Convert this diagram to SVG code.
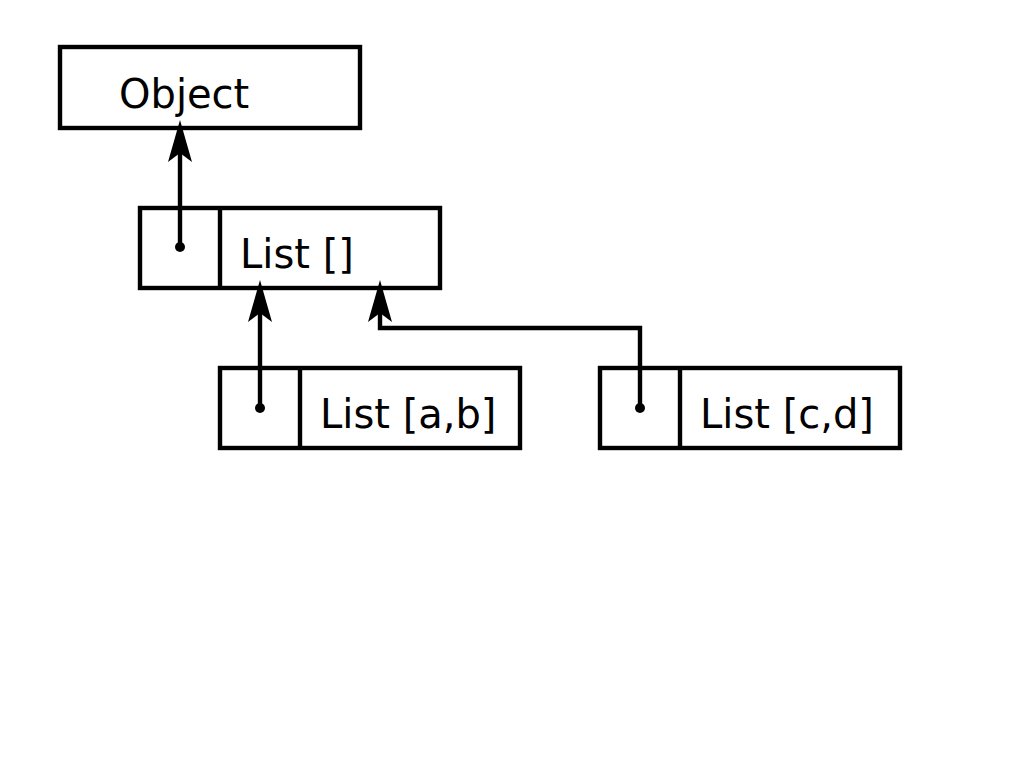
<svg xmlns="http://www.w3.org/2000/svg" width="1024" height="768" viewBox="0 0 1024 768">
<style>
.box{fill:none;stroke:#000;stroke-width:4.4}
.lbl{font-family:"DejaVu Sans",sans-serif;font-size:40px;fill:#000}
.con{fill:none;stroke:#000;stroke-width:4.4}
</style>
<rect width="1024" height="768" fill="#fff"/>
<g id="object">
<rect class="box" x="60" y="47" width="300" height="81"/>
<text class="lbl" x="119" y="108">Object</text>
</g>
<g id="list-empty">
<rect class="box" x="140" y="208" width="300" height="80"/>
<line class="box" x1="220" y1="208" x2="220" y2="288"/>
<text class="lbl" x="240" y="268">List []</text>
</g>
<g id="list-ab">
<rect class="box" x="220" y="368" width="300" height="80"/>
<line class="box" x1="300" y1="368" x2="300" y2="448"/>
<text class="lbl" x="320" y="428">List [a,b]</text>
</g>
<g id="list-cd">
<rect class="box" x="600" y="368" width="300" height="80"/>
<line class="box" x1="680" y1="368" x2="680" y2="448"/>
<text class="lbl" x="700" y="428">List [c,d]</text>
</g>
<g id="connectors">
<circle cx="180" cy="247" r="5"/>
<path class="con" d="M180,247 L180,130"/>
<path d="M180,120 L168,162 L180,153 L192,162 Z"/>
<circle cx="260" cy="408" r="5"/>
<path class="con" d="M260,408 L260,290"/>
<path d="M260,280 L248,322 L260,313 L272,322 Z"/>
<circle cx="640" cy="408" r="5"/>
<path class="con" d="M640,408 L640,328 L380,328 L380,290"/>
<path d="M380,280 L368,322 L380,313 L392,322 Z"/>
</g>
</svg>
